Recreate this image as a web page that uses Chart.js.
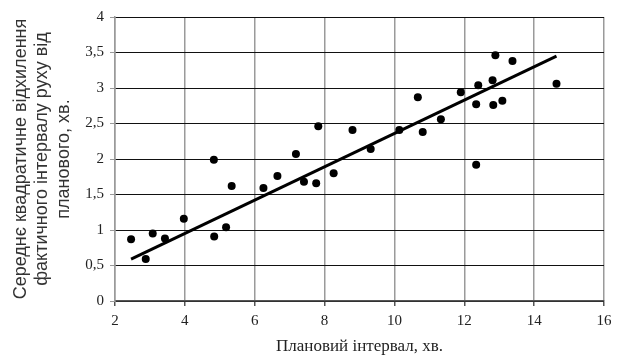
<!DOCTYPE html>
<html>
<head>
<meta charset="utf-8">
<script src="https://cdn.jsdelivr.net/npm/chart.js@4"></script>
<style>
  html, body { margin: 0; padding: 0; background: #fff; }
  #wrap { width: 620px; height: 363px; position: relative; }
</style>
</head>
<body>
<div id="wrap"><canvas id="chart"></canvas></div>
<script>
  const xValues = [2.46, 2.88, 3.08, 3.43, 3.97, 4.83, 4.84, 5.18, 5.34, 6.25, 6.65, 7.18, 7.41, 7.76, 7.82, 8.26,
    8.80, 9.32, 10.14, 10.67, 10.81, 11.33, 11.90, 12.34, 12.34, 12.40, 12.81, 12.83, 12.89, 13.09, 13.38, 14.64];
  const yValues = [0.87, 0.59, 0.95, 0.88, 1.16, 1.99, 0.91, 1.04, 1.62, 1.59, 1.76, 2.07, 1.68, 1.66, 2.46, 1.80,
    2.41, 2.14, 2.41, 2.87, 2.38, 2.56, 2.94, 1.92, 2.77, 3.04, 3.11, 2.76, 3.46, 2.82, 3.38, 3.06];
  const trendX = [2.46, 14.64];
  const trendY = [0.59, 3.45];
  const yTitle = ['Середнє квадратичне відхилення', 'фактичного інтервалу руху від', 'планового, хв.'];
  const xTitle = 'Плановий інтервал, хв.';

  const serif = "'Liberation Serif', 'Times New Roman', serif";
  const sans = "'Liberation Sans', Arial, sans-serif";

  new Chart(document.getElementById('chart'), {
    type: 'scatter',
    data: {
      datasets: [{
        label: 'points',
        data: xValues.map((x, i) => ({ x, y: yValues[i] })),
        pointRadius: 4,
        pointBackgroundColor: '#000',
        pointBorderColor: '#000',
        pointBorderWidth: 0
      }, {
        type: 'line',
        label: 'trend',
        data: trendX.map((x, i) => ({ x, y: trendY[i] })),
        borderColor: '#000',
        borderWidth: 3,
        pointRadius: 0,
        fill: false
      }]
    },
    options: {
      responsive: true,
      maintainAspectRatio: false,
      animation: false,
      layout: { padding: { left: 6, right: 16, top: 17, bottom: 2 } },
      plugins: { legend: { display: false }, tooltip: { enabled: false } },
      scales: {
        x: {
          type: 'linear',
          min: 2,
          max: 16,
          ticks: { stepSize: 2, color: '#222', font: { family: serif, size: 15 }, padding: 6 },
          grid: { color: '#9a9a9a', lineWidth: 1.5, tickLength: 5, tickColor: '#555' },
          border: { color: '#555', width: 1.5 },
          title: { display: true, text: xTitle, color: '#222', font: { family: serif, size: 17 }, padding: { top: 10 } },
          afterFit: (scale) => { scale.height = 60; }
        },
        y: {
          min: 0,
          max: 4,
          ticks: {
            stepSize: 0.5,
            color: '#222',
            font: { family: serif, size: 15 },
            padding: 6,
            callback: (v) => String(v).replace('.', ',')
          },
          grid: { color: '#111', lineWidth: 1, tickLength: 5, tickColor: '#999' },
          border: { color: '#9a9a9a', width: 1.5 },
          title: { display: true, text: yTitle, color: '#333', font: { family: sans, size: 18, lineHeight: 1.2 }, padding: { bottom: 6 } },
          afterFit: (scale) => { scale.width = 109; }
        }
      }
    }
  });
</script>
</body>
</html>
